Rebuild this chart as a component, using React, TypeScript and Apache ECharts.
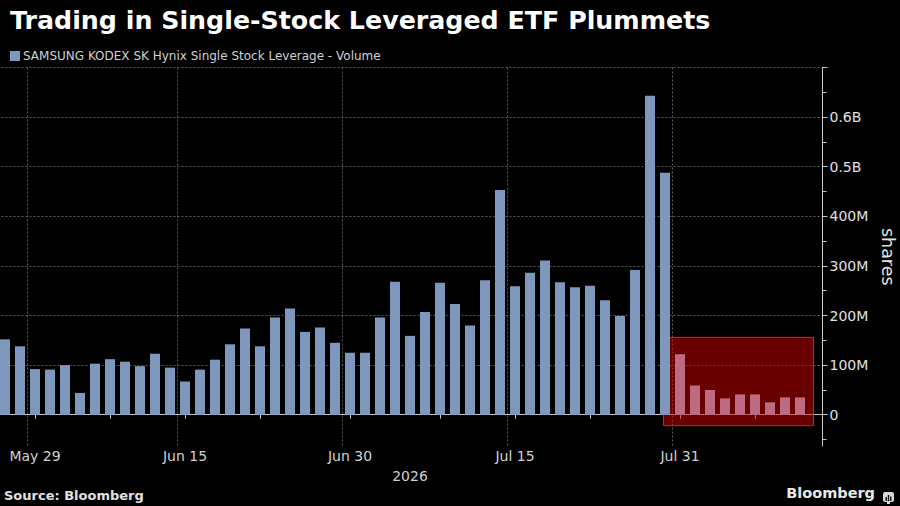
import React, { useEffect, useRef } from "react";
import * as echarts from "echarts";

// Trading days (Korea), last slot left empty as on the reference axis
const categories = [
  "May 27", "May 28", "May 29", "Jun 1", "Jun 2", "Jun 4", "Jun 5", "Jun 8", "Jun 9", "Jun 10",
  "Jun 11", "Jun 12", "Jun 15", "Jun 16", "Jun 17", "Jun 18", "Jun 19", "Jun 22", "Jun 23", "Jun 24",
  "Jun 25", "Jun 26", "Jun 29", "Jun 30", "Jul 1", "Jul 2", "Jul 3", "Jul 6", "Jul 7", "Jul 8",
  "Jul 9", "Jul 10", "Jul 13", "Jul 14", "Jul 15", "Jul 16", "Jul 20", "Jul 21", "Jul 22", "Jul 23",
  "Jul 24", "Jul 27", "Jul 28", "Jul 29", "Jul 30", "Jul 31", "Aug 3", "Aug 4", "Aug 5", "Aug 6",
  "Aug 7", "Aug 10", "Aug 11", "Aug 12", "Aug 13",
];

// Volume in millions of shares
const volumeMillions = [
  152, 138, 92, 91, 100, 44, 103, 112, 107, 98,
  123, 95, 67, 91, 111, 142, 174, 138, 196, 214,
  167, 176, 145, 125, 125, 196, 268, 159, 207, 266,
  223, 180, 271, 453, 259, 286, 311, 267, 257, 260,
  231, 199, 292, 643, 488, 122, 59, 50, 33, 41,
  41, 25, 35, 35,
];

const labelDates = ["May 29", "Jun 15", "Jun 30", "Jul 15", "Jul 31"];
const midTickDates = ["Jun 8", "Jun 22", "Jul 8", "Jul 23", "Aug 7"];
const yTickMillions = [0, 100, 200, 300, 400, 500, 600, 700];
const yLabelMillions = [0, 100, 200, 300, 400, 500, 600];
const highlightFrom = "Jul 31";
const boxFrom = "Jul 30";
const boxTo = "Aug 13";
const boxTopMillions = 156;
const boxBottomMillions = -22;
const yMinMillions = -63;
const yMaxMillions = 700;

const seriesName = "SAMSUNG KODEX SK Hynix Single Stock Leverage - Volume";
const BLUE = "#7e97bd";
const PINK = "#bd6a82";
const FONT = "DejaVu Sans";

export default function App() {
  const ref = useRef<HTMLDivElement>(null);

  useEffect(() => {
    document.body.style.margin = "0";
    document.body.style.background = "#000";
    if (!ref.current) return;
    const chart = echarts.init(ref.current, null, { renderer: "svg" });
    const hiIdx = categories.indexOf(highlightFrom);
    const labelIdx = new Set(labelDates.map((d) => categories.indexOf(d)));
    const tickIdx = new Set([...labelDates, ...midTickDates].map((d) => categories.indexOf(d)));

    const data = volumeMillions.map((v, i) => ({
      value: v * 1e6,
      itemStyle: i >= hiIdx ? { color: PINK } : undefined,
    }));

    const fmtY = (v: number) => {
      if (v === 0) return "0";
      if (v < 0 || v > 600e6) return "";
      if (v >= 500e6) return (v / 1e9).toFixed(1) + "B";
      return Math.round(v / 1e6) + "M";
    };

    chart.setOption({
      animation: false,
      backgroundColor: "#000",
      textStyle: { fontFamily: FONT },
      title: {
        text: "Trading in Single-Stock Leveraged ETF Plummets",
        left: 5,
        top: 3,
        textStyle: { color: "#fff", fontSize: 25.3, fontWeight: "bold", fontFamily: FONT },
      },
      legend: {
        data: [seriesName],
        left: 5,
        top: 45,
        icon: "rect",
        itemWidth: 10,
        itemHeight: 10,
        textStyle: { color: "#d0d0d0", fontSize: 12, fontFamily: FONT, padding: [0, 0, 0, -2] },
      },
      grid: {
        left: -2.5,
        right: 77.5,
        top: 67.5,
        bottom: 60,
        containLabel: false,
        outerBoundsMode: "none",
      },
      xAxis: {
        type: "category",
        data: categories,
        name: "2026",
        nameLocation: "middle",
        nameGap: 23,
        nameTextStyle: { color: "#d0d0d0", fontSize: 14, fontFamily: FONT },
        axisLine: { show: true, lineStyle: { color: "#c8c8c8", width: 1 } },
        axisTick: {
          show: true,
          alignWithLabel: true,
          length: 4,
          interval: (i: number) => tickIdx.has(i),
          lineStyle: { color: "#c8c8c8" },
        },
        axisLabel: {
          interval: (i: number) => labelIdx.has(i),
          color: "#d0d0d0",
          fontSize: 14,
          fontFamily: FONT,
          margin: 3,
        },
        splitLine: {
          show: true,
          interval: (i: number) => labelIdx.has(i),
          lineStyle: { color: "#5a5a5a", type: [2, 2], width: 1 },
        },
      },
      yAxis: {
        type: "value",
        position: "right",
        min: yMinMillions * 1e6,
        max: yMaxMillions * 1e6,
        splitNumber: 8,
        minInterval: 100e6,
        maxInterval: 100e6,
        name: "shares",
        nameLocation: "middle",
        nameRotate: -90,
        nameGap: 56,
        nameTextStyle: { color: "#e0e0e0", fontSize: 17.5, fontFamily: FONT },
        axisLine: { show: true, lineStyle: { color: "#c8c8c8", width: 1 } },
        axisTick: {
          show: true,
          inside: false,
          length: 5,
          customValues: yTickMillions.map((v) => v * 1e6),
          lineStyle: { color: "#c8c8c8" },
        },
        minorTick: { show: true, splitNumber: 2, length: 4, lineStyle: { color: "#c8c8c8" } },
        axisLabel: {
          customValues: yLabelMillions.map((v) => v * 1e6),
          formatter: fmtY,
          color: "#e0e0e0",
          fontSize: 14,
          fontFamily: FONT,
          margin: 7,
        },
        splitLine: { show: true, lineStyle: { color: "#5a5a5a", type: [2, 2], width: 1 } },
      },
      series: [
        {
          name: "box",
          type: "custom",
          z: 1,
          silent: true,
          encode: { x: [0, 1], y: [2, 3] },
          data: [[categories.indexOf(boxFrom), categories.indexOf(boxTo), boxTopMillions * 1e6, boxBottomMillions * 1e6]],
          renderItem: (params: any, api: any) => {
            const p1 = api.coord([api.value(0), api.value(2)]);
            const p2 = api.coord([api.value(1), api.value(3)]);
            return {
              type: "rect",
              shape: { x: p1[0] - 1.5, y: p1[1], width: p2[0] - p1[0], height: p2[1] - p1[1] },
              style: {
                fill: "rgba(210,0,0,0.5)",
                stroke: "rgba(235,40,40,0.85)",
                lineWidth: 1,
              },
            };
          },
        },
        {
          name: seriesName,
          type: "bar",
          z: 2,
          data,
          barWidth: 10,
          itemStyle: { color: BLUE },
        },
      ],
      graphic: [
        {
          type: "text",
          left: 4,
          top: 489,
          style: { text: "Source: Bloomberg", fill: "#e0e0e0", font: `bold 13px "${FONT}"` },
        },
        {
          type: "text",
          right: 25,
          top: 485,
          style: { text: "Bloomberg", fill: "#e8e8e8", font: `bold 14.5px "${FONT}"` },
        },
        {
          type: "group",
          right: 6,
          top: 492,
          children: [
            { type: "rect", shape: { x: 0, y: 0, width: 11, height: 10, r: 2 }, style: { fill: "#d8d8d8" } },
            { type: "rect", shape: { x: 4, y: 10, width: 3, height: 2 }, style: { fill: "#d8d8d8" } },
            { type: "rect", shape: { x: 2.5, y: 5, width: 1.3, height: 4 }, style: { fill: "#000" } },
            { type: "rect", shape: { x: 4.8, y: 3, width: 1.3, height: 6 }, style: { fill: "#000" } },
            { type: "rect", shape: { x: 7.1, y: 4.5, width: 1.3, height: 4.5 }, style: { fill: "#000" } },
          ],
        },
      ],
    });

    return () => chart.dispose();
  }, []);

  return <div ref={ref} style={{ width: 900, height: 506 }} />;
}
